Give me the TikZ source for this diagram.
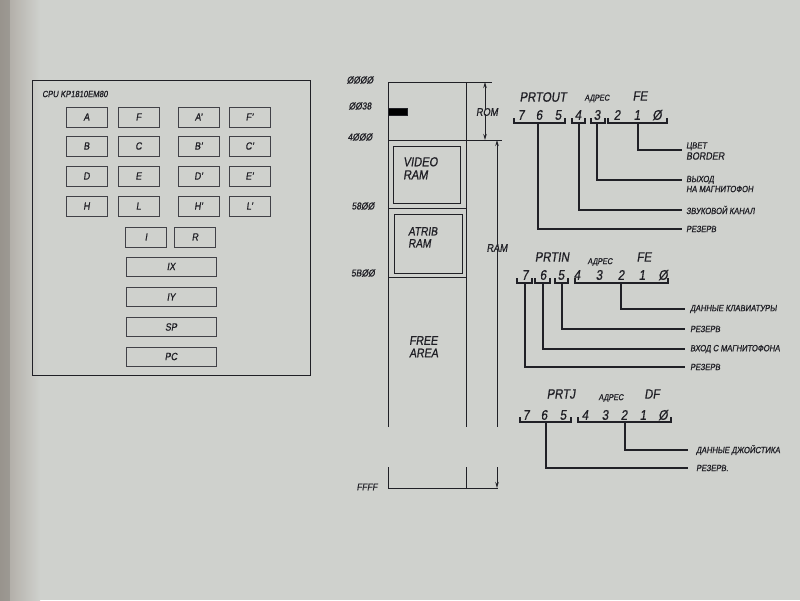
\documentclass[tikz,border=0pt]{standalone}
\usepackage{fontspec}
\setmainfont{Liberation Sans}[FakeSlant=0.15, FakeStretch=0.85, FakeBold=0.8]
\usetikzlibrary{arrows.meta}
\definecolor{paper}{RGB}{207,209,205}
\definecolor{paperdark}{RGB}{170,165,158}
\definecolor{ink}{RGB}{32,32,38}
\newcommand{\fs}[1]{\fontsize{#1}{#1}\selectfont}
\tikzset{
  ink/.style={draw=ink, line width=1pt},
  reg/.style={draw=ink!85, line width=0.9pt, rectangle, minimum width=41pt, minimum height=20pt, inner sep=0pt, font=\fs{10.5}, text=ink},
  wreg/.style={reg, minimum width=90pt, minimum height=19pt},
  lbl/.style={text=ink, inner sep=0pt},
  addr/.style={lbl, font=\fs{10}},
  dig/.style={lbl, font=\fs{14}},
  ttl/.style={lbl, font=\fs{13.5}},
  small/.style={lbl, font=\fs{8.5}},
  note/.style={lbl, font=\fs{9}, anchor=west, align=left},
  brk/.style={draw=ink, line width=1.1pt},
  lead/.style={draw=ink, line width=1.1pt},
  dim/.style={draw=ink, line width=1pt, -{Stealth[length=6pt,width=3.5pt]}},
}
\begin{document}
\begin{tikzpicture}[x=1pt,y=-1pt]
\useasboundingbox (0,0) rectangle (800,600);
% paper
\fill[paper] (0,0) rectangle (800,600);
\shade[left color=paperdark, right color=paper] (0,-1) rectangle (40,601);
\fill[paperdark!80!black, opacity=0.5] (0,-1) rectangle (10,601);

% ---------- CPU ----------
\node[ink, rectangle, minimum width=278pt, minimum height=295pt, inner sep=0pt] (cpu) at (171,227.5) {};
\node[lbl, font=\fs{9}, anchor=west] (cputitle) at (42,94) {CPU KP1810EM80};
\node[reg] (A)  at (86.5,117) {A};
\node[reg] (F)  at (138.5,117) {F};
\node[reg] (Ap) at (198.5,117) {A’};
\node[reg] (Fp) at (249.5,117) {F’};
\node[reg] (B)  at (86.5,146) {B};
\node[reg] (C)  at (138.5,146) {C};
\node[reg] (Bp) at (198.5,146) {B’};
\node[reg] (Cp) at (249.5,146) {C’};
\node[reg] (D)  at (86.5,176) {D};
\node[reg] (E)  at (138.5,176) {E};
\node[reg] (Dp) at (198.5,176) {D’};
\node[reg] (Ep) at (249.5,176) {E’};
\node[reg] (H)  at (86.5,206) {H};
\node[reg] (L)  at (138.5,206) {L};
\node[reg] (Hp) at (198.5,206) {H’};
\node[reg] (Lp) at (249.5,206) {L’};
\node[reg] (I)  at (146,237) {I};
\node[reg] (R)  at (195,237) {R};
\node[wreg] (IX) at (171,266.5) {IX};
\node[wreg] (IY) at (171,297) {IY};
\node[wreg] (SP) at (171,327) {SP};
\node[wreg] (PC) at (171,356.5) {PC};

% ---------- memory map ----------
\draw[ink] (388,427) -- (388,82) -- (492,82);
\draw[ink] (466,82) -- (466,427);
\draw[ink] (388,140) -- (502,140);
\draw[ink] (388,208) -- (466,208);
\draw[ink] (388,277) -- (466,277);
\draw[ink] (388,467) -- (388,488) -- (498,488);
\draw[ink] (466,467) -- (466,488);
\fill[ink] (388,108) rectangle (407,115);
\node[ink, rectangle, minimum width=67pt, minimum height=57pt, inner sep=0pt] (video) at (426.5,174.5) {};
\node[lbl, font=\fs{13}, align=left, anchor=north west] (videotxt) at (403,157) {VIDEO\\RAM};
\node[ink, rectangle, minimum width=68pt, minimum height=59pt, inner sep=0pt] (atrib) at (428,243.5) {};
\node[lbl, font=\fs{12}, align=left, anchor=north west] (atribtxt) at (408,227) {ATRIB\\RAM};
\node[lbl, font=\fs{12.5}, align=left, anchor=north west] (freetxt) at (409,336) {FREE\\AREA};
\node[addr] (a0) at (360,80) {ØØØØ};
\node[addr] (a1) at (360,106) {ØØ38};
\node[addr] (a2) at (360,137) {4ØØØ};
\node[addr] (a3) at (363,206) {58ØØ};
\node[addr] (a4) at (363,273) {5BØØ};
\node[addr] (a5) at (367,487) {FFFF};
% dimensions
\node[lbl, font=\fs{11}] (rom) at (487,112) {ROM};
\coordinate (romtop) at (485,82);
\coordinate (rombot) at (485,140);
\draw[dim] ([yshift=-2pt]rom.north -| romtop) -- (romtop);
\draw[dim] ([yshift=2pt]rom.south -| rombot) -- (rombot);
\node[lbl, font=\fs{11}] (ram) at (497,248) {RAM};
\coordinate (ramtop) at (497,140);
\coordinate (rambrk) at (497,427);
\coordinate (ramres) at (497,467);
\coordinate (rambot) at (497,488);
\draw[dim] ([yshift=-3pt]ram.north) -- (ramtop);
\draw[ink] ([yshift=3pt]ram.south) -- (rambrk);
\draw[dim] (ramres) -- (rambot);

% ---------- PRTOUT ----------
\node[ttl] (t1) at (543,97) {PRTOUT};
\node[small] (ad1) at (597,98.5) {АДРЕС};
\node[ttl] (fe1) at (640,96) {FE};
\foreach \d/\x in {7/521,6/539,5/558,4/578,3/597,2/617,1/637,Ø/657}
  \node[dig] at (\x,115) {\d};
\draw[brk] (514,118) |- (565,123) -- (565,118);
\draw[brk] (572,118) |- (585,123) -- (585,118);
\draw[brk] (591,118) |- (605,123) -- (605,118);
\draw[brk] (608,118) |- (667,123) -- (667,118);
\coordinate (o4) at (638,123);
\coordinate (o3) at (597,123);
\coordinate (o2) at (579,123);
\coordinate (o1) at (538,123);
\node[note] (n1) at (686,151) {ЦВЕТ\\[1pt]{\fs{10.5}BORDER}};
\node[note] (n2) at (686,184) {ВЫХОД\\[1pt]НА МАГНИТОФОН};
\node[note] (n3) at (686,210) {ЗВУКОВОЙ КАНАЛ};
\node[note] (n4) at (686,229) {РЕЗЕРВ};
\draw[lead] (o4) |- ([xshift=-4pt]n1.west |- 0,150);
\draw[lead] (o3) |- ([xshift=-4pt]n2.west |- 0,180);
\draw[lead] (o2) |- ([xshift=-4pt]n3.west);
\draw[lead] (o1) |- ([xshift=-4pt]n4.west);

% ---------- PRTIN ----------
\node[ttl] (t2) at (552,257) {PRTIN};
\node[small] (ad2) at (600,262) {АДРЕС};
\node[ttl] (fe2) at (644,257) {FE};
\foreach \d/\x in {7/525,6/543,5/561,4/577,3/599,2/621,1/642,Ø/663}
  \node[dig] at (\x,275) {\d};
\draw[brk] (517,278) |- (532,283) -- (532,278);
\draw[brk] (535,278) |- (550,283) -- (550,278);
\draw[brk] (555,278) |- (568,283) -- (568,278);
\draw[brk] (575,278) |- (668,283) -- (668,278);
\coordinate (i4) at (621,283);
\coordinate (i3) at (562,283);
\coordinate (i2) at (543,283);
\coordinate (i1) at (525,283);
\node[note] (m1) at (690,309) {ДАННЫЕ КЛАВИАТУРЫ};
\node[note] (m2) at (690,329) {РЕЗЕРВ};
\node[note] (m3) at (690,349) {ВХОД С МАГНИТОФОНА};
\node[note] (m4) at (690,367) {РЕЗЕРВ};
\draw[lead] (i4) |- ([xshift=-5pt]m1.west);
\draw[lead] (i3) |- ([xshift=-5pt]m2.west);
\draw[lead] (i2) |- ([xshift=-5pt]m3.west);
\draw[lead] (i1) |- ([xshift=-5pt]m4.west);

% ---------- PRTJ ----------
\node[ttl] (t3) at (561,394) {PRTJ};
\node[small] (ad3) at (611,398) {АДРЕС};
\node[ttl] (df3) at (652,394) {DF};
\foreach \d/\x in {7/526,6/544,5/563,4/585,3/605,2/624,1/643,Ø/663}
  \node[dig] at (\x,415) {\d};
\draw[brk] (520,417) |- (571,422) -- (571,417);
\draw[brk] (578,417) |- (671,422) -- (671,417);
\coordinate (j2) at (625,422);
\coordinate (j1) at (546,422);
\node[note] (k1) at (696,450) {ДАННЫЕ ДЖОЙСТИКА};
\node[note] (k2) at (696,468) {РЕЗЕРВ.};
\draw[lead] (j2) |- ([xshift=-8pt]k1.west);
\draw[lead] (j1) |- ([xshift=-8pt]k2.west);
\end{tikzpicture}
\end{document}
